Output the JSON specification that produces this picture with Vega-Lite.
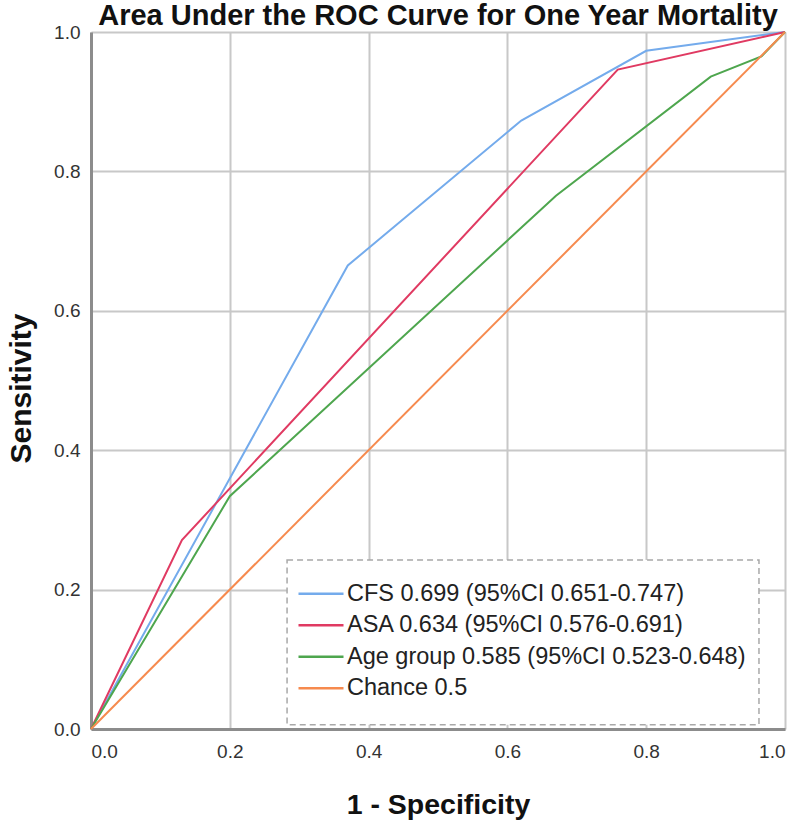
{
  "$schema": "https://vega.github.io/schema/vega-lite/v6.json",
  "width": 694,
  "height": 697,
  "autosize": {"type": "none"},
  "padding": {"left": 91, "top": 32, "right": 15, "bottom": 92},
  "background": "white",
  "title": {"text": "Area Under the ROC Curve for One Year Mortality", "fontSize": 29, "font": "Liberation Sans", "fontWeight": "bold", "color": "#111111", "anchor": "middle", "offset": 5, "dy": 13},
  "config": {
    "view": {"stroke": null},
    "axis": {"grid": true, "gridColor": "#c8c8c8", "gridWidth": 2, "domainColor": "#8c8c8c", "domainWidth": 3, "ticks": false, "labelFont": "Liberation Sans", "labelFontSize": 19, "labelColor": "#333333", "titleFont": "Liberation Sans", "titleFontWeight": "bold", "titleColor": "#111111"}
  },
  "data": {"values": [
    {"series": "CFS 0.699 (95%CI 0.651-0.747)", "x": 0, "y": 0},
    {"series": "CFS 0.699 (95%CI 0.651-0.747)", "x": 0.37, "y": 0.665},
    {"series": "CFS 0.699 (95%CI 0.651-0.747)", "x": 0.62, "y": 0.873},
    {"series": "CFS 0.699 (95%CI 0.651-0.747)", "x": 0.80, "y": 0.973},
    {"series": "CFS 0.699 (95%CI 0.651-0.747)", "x": 1, "y": 1},
    {"series": "ASA 0.634 (95%CI 0.576-0.691)", "x": 0, "y": 0},
    {"series": "ASA 0.634 (95%CI 0.576-0.691)", "x": 0.131, "y": 0.271},
    {"series": "ASA 0.634 (95%CI 0.576-0.691)", "x": 0.759, "y": 0.946},
    {"series": "ASA 0.634 (95%CI 0.576-0.691)", "x": 1, "y": 1},
    {"series": "Age group 0.585 (95%CI 0.523-0.648)", "x": 0, "y": 0},
    {"series": "Age group 0.585 (95%CI 0.523-0.648)", "x": 0.2, "y": 0.334},
    {"series": "Age group 0.585 (95%CI 0.523-0.648)", "x": 0.67, "y": 0.765},
    {"series": "Age group 0.585 (95%CI 0.523-0.648)", "x": 0.893, "y": 0.936},
    {"series": "Age group 0.585 (95%CI 0.523-0.648)", "x": 0.966, "y": 0.965},
    {"series": "Age group 0.585 (95%CI 0.523-0.648)", "x": 1, "y": 1},
    {"series": "Chance 0.5", "x": 0, "y": 0},
    {"series": "Chance 0.5", "x": 1, "y": 1}
  ]},
  "layer": [
    {
      "mark": {"type": "line", "strokeWidth": 2},
      "encoding": {
        "x": {"field": "x", "type": "quantitative", "scale": {"domain": [0, 1], "nice": false}, "axis": {"values": [0, 0.2, 0.4, 0.6, 0.8, 1], "format": ".1f", "title": "1 - Specificity", "titleFontSize": 28.5, "labelPadding": 13, "titlePadding": 29}},
        "y": {"field": "y", "type": "quantitative", "scale": {"domain": [0, 1], "nice": false}, "axis": {"values": [0, 0.2, 0.4, 0.6, 0.8, 1], "format": ".1f", "title": "Sensitivity", "titleFontSize": 30, "titleY": 356, "labelPadding": 11, "titlePadding": 17}},
        "order": {"field": "x", "type": "quantitative"},
        "color": {"field": "series", "type": "nominal", "sort": null,
          "scale": {"domain": ["CFS 0.699 (95%CI 0.651-0.747)", "ASA 0.634 (95%CI 0.576-0.691)", "Age group 0.585 (95%CI 0.523-0.648)", "Chance 0.5"], "range": ["#74abec", "#e03a62", "#4ea64e", "#f68a4e"]},
          "legend": {"orient": "none", "legendX": 206, "legendY": 550, "title": null, "symbolType": "stroke", "symbolSize": 2025, "symbolStrokeWidth": 2.5, "clipHeight": 23.5, "rowPadding": 6.5, "labelFont": "Liberation Sans", "labelFontSize": 23.5, "labelColor": "#222222", "labelOffset": 2, "labelLimit": 600}
        }
      }
    },
    {
      "data": {"values": [{}]},
      "mark": {"type": "rect", "fill": "white", "stroke": "#a8a8a8", "strokeDash": [6, 4], "strokeWidth": 1.5},
      "encoding": {
        "x": {"datum": 0.2825, "type": "quantitative"},
        "x2": {"datum": 0.9625},
        "y": {"datum": 0.006, "type": "quantitative"},
        "y2": {"datum": 0.2425}
      }
    }
  ]
}
